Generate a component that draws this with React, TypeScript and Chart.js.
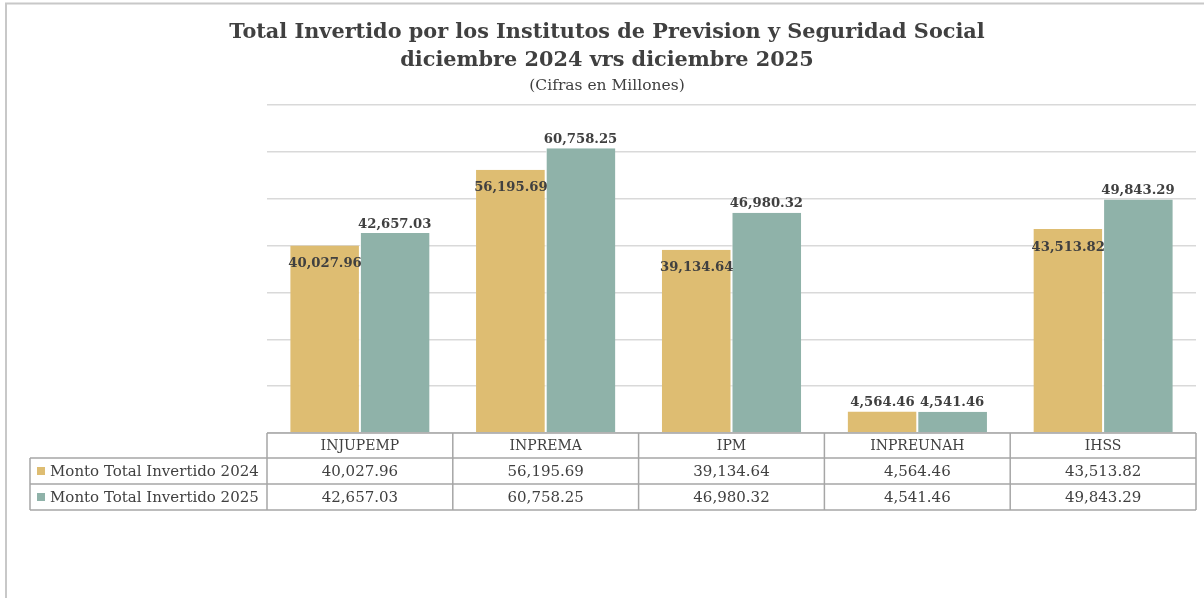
import React, { useEffect, useRef } from "react";
import { Chart, registerables } from "chart.js";

Chart.register(...registerables);

const categories = ["INJUPEMP", "INPREMA", "IPM", "INPREUNAH", "IHSS"];
const series2024 = [40027.96, 56195.69, 39134.64, 4564.46, 43513.82];
const series2025 = [42657.03, 60758.25, 46980.32, 4541.46, 49843.29];
const seriesNames = ["Monto Total Invertido 2024", "Monto Total Invertido 2025"];
const titleLines = [
  "Total Invertido por los Institutos de Prevision y Seguridad Social",
  "diciembre 2024 vrs diciembre 2025",
];
const subtitleText = "(Cifras en Millones)";

const GOLD = "rgb(222,189,114)";
const TEAL = "rgb(143,178,169)";
const TEXT = "#404040";
const FONT = "'DejaVu Serif', serif";

const fmt = (v: number) =>
  v.toLocaleString("en-US", { minimumFractionDigits: 2, maximumFractionDigits: 2 });

const framePlugin = {
  id: "frame",
  beforeDraw(chart: any) {
    const ctx = chart.ctx;
    ctx.save();
    ctx.fillStyle = "#ffffff";
    ctx.fillRect(0, 0, chart.width, chart.height);
    ctx.strokeStyle = "#c8c8c8";
    ctx.lineWidth = 2;
    ctx.beginPath();
    ctx.moveTo(6, chart.height);
    ctx.lineTo(6, 3.5);
    ctx.lineTo(chart.width, 3.5);
    ctx.stroke();
    const cx = 607;
    ctx.fillStyle = TEXT;
    ctx.textAlign = "center";
    ctx.textBaseline = "middle";
    ctx.font = `bold 20.8px ${FONT}`;
    ctx.fillText(titleLines[0], cx, 33);
    ctx.fillText(titleLines[1], cx, 61);
    ctx.font = `15.5px ${FONT}`;
    ctx.fillText(subtitleText, cx, 86);
    ctx.restore();
  },
};

const labelsTablePlugin = {
  id: "labelsTable",
  afterDraw(chart: any) {
    const ctx = chart.ctx;
    const area = chart.chartArea;
    ctx.save();
    ctx.font = `bold 13.2px ${FONT}`;
    ctx.fillStyle = TEXT;
    ctx.textAlign = "center";
    ctx.textBaseline = "middle";
    chart.data.datasets.forEach((ds: any, di: number) => {
      const meta = chart.getDatasetMeta(di);
      meta.data.forEach((bar: any, i: number) => {
        const v = ds.data[i];
        const h = bar.base - bar.y;
        let y: number;
        if (di === 0 && h > 60) y = bar.y + 18;
        else y = bar.y - 9;
        ctx.fillText(fmt(v), bar.x, y);
      });
    });

    const n = categories.length;
    const left = area.left;
    const right = area.right;
    const colW = (right - left) / n;
    const top = area.bottom;
    const rowH = [25, 26, 26];
    const y1 = top + rowH[0];
    const y2 = y1 + rowH[1];
    const y3 = y2 + rowH[2];
    const legendLeft = 30;

    ctx.strokeStyle = "#a6a6a6";
    ctx.lineWidth = 1.5;
    ctx.beginPath();
    ctx.moveTo(left, top);
    ctx.lineTo(right, top);
    ctx.moveTo(legendLeft, y1);
    ctx.lineTo(right, y1);
    ctx.moveTo(legendLeft, y2);
    ctx.lineTo(right, y2);
    ctx.moveTo(legendLeft, y3);
    ctx.lineTo(right, y3);
    for (let i = 0; i <= n; i++) {
      const x = left + i * colW;
      ctx.moveTo(x, top);
      ctx.lineTo(x, y3);
    }
    ctx.moveTo(legendLeft, y1);
    ctx.lineTo(legendLeft, y3);
    ctx.stroke();

    ctx.fillStyle = TEXT;
    ctx.textAlign = "center";
    ctx.textBaseline = "middle";
    const rowsData = [series2024, series2025];
    for (let i = 0; i < n; i++) {
      const cx = chart.scales.x.getPixelForValue(i);
      ctx.font = `14px ${FONT}`;
      ctx.fillText(categories[i], cx, top + rowH[0] / 2 + 1);
      ctx.font = `15px ${FONT}`;
      ctx.fillText(fmt(rowsData[0][i]), cx, y1 + rowH[1] / 2 + 1);
      ctx.fillText(fmt(rowsData[1][i]), cx, y2 + rowH[2] / 2 + 1);
    }
    const colors = [GOLD, TEAL];
    const rowTops = [y1, y2];
    ctx.textAlign = "left";
    ctx.font = `15px ${FONT}`;
    for (let r = 0; r < 2; r++) {
      const cy = rowTops[r] + rowH[r + 1] / 2;
      ctx.fillStyle = colors[r];
      ctx.fillRect(37, cy - 4, 8, 8);
      ctx.fillStyle = TEXT;
      ctx.fillText(seriesNames[r], 50, cy + 1);
    }
    ctx.restore();
  },
};

export default function App() {
  const ref = useRef<HTMLCanvasElement | null>(null);
  useEffect(() => {
    if (!ref.current) return;
    const chart = new Chart(ref.current, {
      type: "bar",
      data: {
        labels: categories,
        datasets: [
          {
            label: seriesNames[0],
            data: series2024,
            backgroundColor: GOLD,
            borderColor: "#ffffff",
            borderWidth: { right: 1, left: 0, top: 0, bottom: 0 } as any,
            categoryPercentage: 0.75,
            barPercentage: 1,
          },
          {
            label: seriesNames[1],
            data: series2025,
            backgroundColor: TEAL,
            borderColor: "#ffffff",
            borderWidth: { left: 1, right: 0, top: 0, bottom: 0 } as any,
            categoryPercentage: 0.75,
            barPercentage: 1,
          },
        ],
      },
      options: {
        responsive: false,
        animation: false,
        layout: { padding: { left: 267, right: 8, top: 105, bottom: 165 } },
        plugins: {
          legend: { display: false },
          tooltip: { enabled: false },
          title: { display: false },
        },
        scales: {
          x: { display: false },
          y: {
            min: 0,
            max: 70000,
            ticks: { display: false, stepSize: 10000 },
            border: { display: false },
            grid: { color: "#d9d9d9", lineWidth: 1.5, drawTicks: false },
          },
        },
      },
      plugins: [framePlugin, labelsTablePlugin],
    });
    return () => chart.destroy();
  }, []);
  return (
    <div style={{ position: "absolute", left: 0, top: 0, width: 1204, height: 598 }}>
      <canvas ref={ref} width={1204} height={598} style={{ width: 1204, height: 598 }} />
    </div>
  );
}
